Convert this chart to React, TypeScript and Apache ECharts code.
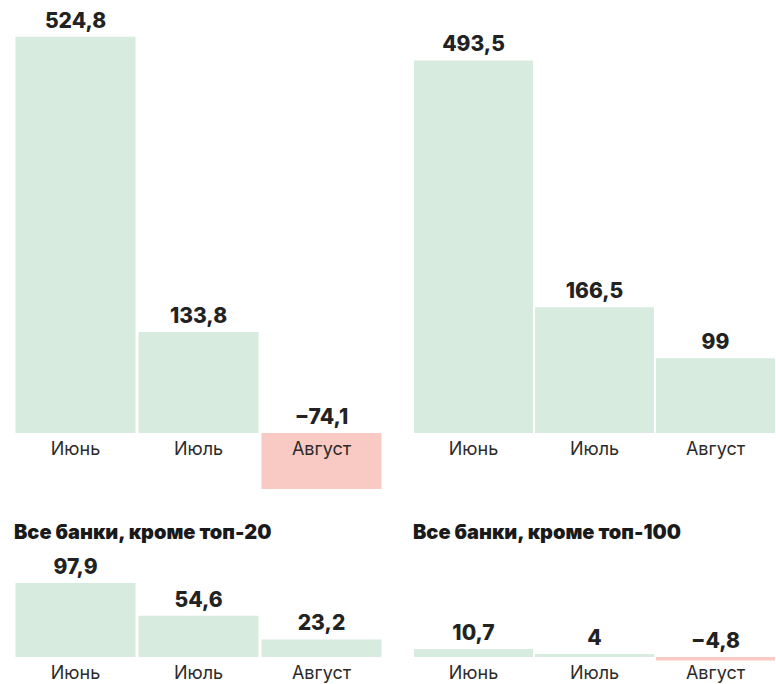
import React, { useEffect, useRef } from "react";
import * as echarts from "echarts";

const categories = ["Июнь", "Июль", "Август"];
const valuesTopLeft = [524.8, 133.8, -74.1];
const valuesTopRight = [493.5, 166.5, 99];
const valuesBottomLeft = [97.9, 54.6, 23.2];
const valuesBottomRight = [10.7, 4, -4.8];
const panelTitles = ["", "", "Все банки, кроме топ-20", "Все банки, кроме топ-100"];

const POS = "#d7ecde";
const NEG = "#f9c9c3";
const FONT = "Inter, 'Noto Sans', sans-serif";

const fmt = (v: number) => {
  const s = String(Math.abs(v)).replace(".", ",");
  return v < 0 ? "\u2212" + s : s;
};

export default function App() {
  const ref = useRef<HTMLDivElement>(null);
  useEffect(() => {
    if (!ref.current) return;
    const chart = echarts.init(ref.current, null, { renderer: "svg" });
    const scale = 0.755; // px per unit, shared by all panels
    const panels = [
      { data: valuesTopLeft, left: 14, width: 369, base: 433, max: 550 },
      { data: valuesTopRight, left: 413, width: 366, base: 433, max: 550 },
      { data: valuesBottomLeft, left: 14, width: 369, base: 657, max: 110 },
      { data: valuesBottomRight, left: 413, width: 366, base: 657, max: 110 },
    ];
    const grid = panels.map((p) => ({
      left: p.left,
      width: p.width,
      top: p.base - p.max * scale,
      height: p.max * scale,
      containLabel: false,
    }));
    const xAxis = panels.map((_, i) => ({
      type: "category" as const,
      gridIndex: i,
      data: categories,
      axisLine: { show: false },
      axisTick: { show: false },
      axisLabel: { color: "#2b2b2b", fontSize: 18, fontFamily: FONT, margin: 6 },
      z: 10,
    }));
    const yAxis = panels.map((p, i) => ({
      type: "value" as const,
      gridIndex: i,
      min: 0,
      max: p.max,
      show: false,
      splitLine: { show: false },
    }));
    const series = panels.map((p, i) => ({
      type: "bar" as const,
      xAxisIndex: i,
      yAxisIndex: i,
      barWidth: Math.floor(p.width / categories.length) - 3,
      clip: false,
      z: 2,
      data: p.data.map((v) => ({
        value: v,
        itemStyle: { color: v < 0 ? NEG : POS },
      })),
      label: {
        show: true,
        position: "top",
        distance: 6,
        color: "#222",
        fontSize: 21,
        fontWeight: 800,
        fontFamily: FONT,
        formatter: (d: any) => fmt(d.value),
      },
    }));
    const title = panelTitles
      .map((t, i) => ({ t, i }))
      .filter((o) => o.t)
      .map((o) => ({
        text: o.t,
        left: panels[o.i].left,
        top: 522,
        padding: 0,
        textStyle: { fontFamily: FONT, fontSize: 20, fontWeight: 900, color: "#1a1a1a" },
      }));
    chart.setOption({
      animation: false,
      backgroundColor: "#fff",
      title,
      grid,
      xAxis,
      yAxis,
      series,
    });
    return () => chart.dispose();
  }, []);
  return (
    <div
      ref={ref}
      style={{ position: "absolute", left: 0, top: 0, width: 776, height: 684 }}
    />
  );
}
